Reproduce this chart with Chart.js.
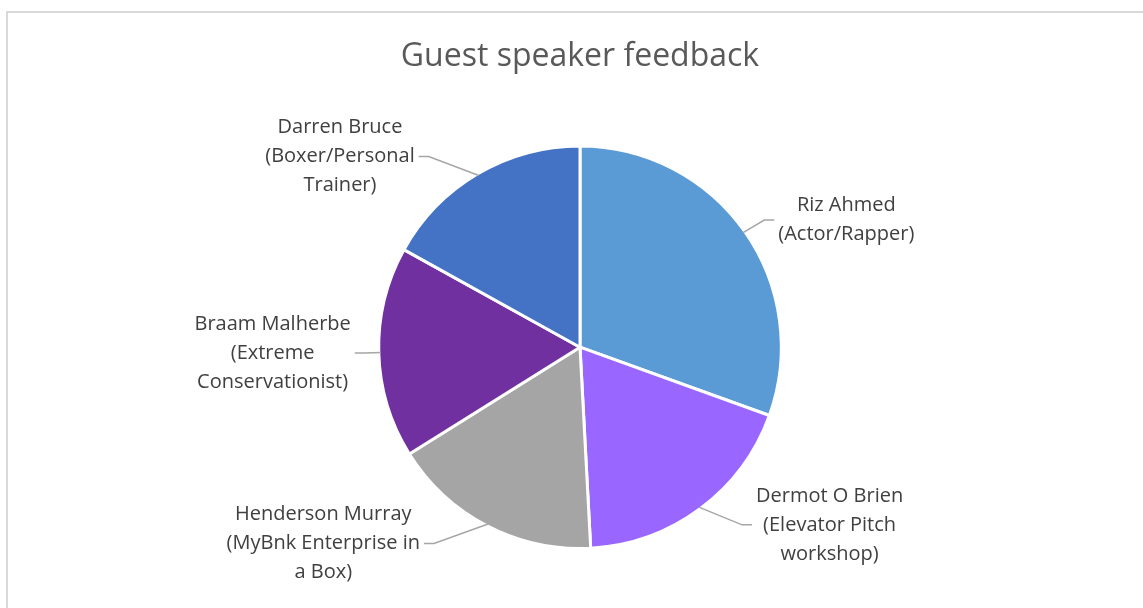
<!DOCTYPE html>
<html lang="en">
<head>
    <meta charset="UTF-8">
    <title>Guest speaker feedback</title>
    <script src="https://cdn.jsdelivr.net/npm/chart.js@4.4.2/dist/chart.umd.min.js"></script>
    <style>
        body {
          margin: 0;
          padding: 0;
          background-color: #fff;
          overflow: hidden;}
        .frame {
          position: absolute;
          left: 6px;
          top: 11px;
          width: 1300px;
          height: 800px;
          border: 2px solid #d9d9d9;}
        .wrap {
          position: absolute;
          left: 0;
          top: 0;
          width: 1143px;
          height: 608px;}
    </style>
</head>
<body>
    <div class="frame"></div>
    <div class="wrap"><canvas id="pieChart" width="1143" height="608"></canvas></div>

    <script>
        // speakers, each label split into the lines shown in the picture
        const speakerLabels = [
            ['Riz Ahmed', '(Actor/Rapper)'],
            ['Dermot O Brien', '(Elevator Pitch', 'workshop)'],
            ['Henderson Murray', '(MyBnk Enterprise in', 'a Box)'],
            ['Braam Malherbe', '(Extreme', 'Conservationist)'],
            ['Darren Bruce', '(Boxer/Personal', 'Trainer)']
        ];
        const feedbackCounts = [18, 11, 10, 10, 10];
        const sliceColors = ['#5B9BD5', '#9966FF', '#A5A5A5', '#7030A0', '#4472C4'];

        const LABEL_FONT = '20px "Open Sans"';
        const LINE_H = 29;

        // Draws the category labels outside the pie with grey leader lines
        const outsideLabels = {
            id: 'outsideLabels',
            afterDatasetsDraw(chart) {
                const ctx = chart.ctx;
                const meta = chart.getDatasetMeta(0);
                ctx.save();
                ctx.font = LABEL_FONT;
                ctx.fillStyle = '#404040';
                ctx.strokeStyle = '#a6a6a6';
                ctx.lineWidth = 1.5;
                ctx.textAlign = 'center';
                ctx.textBaseline = 'middle';
                meta.data.forEach((arc, i) => {
                    const p = arc.getProps(['x', 'y', 'startAngle', 'endAngle', 'outerRadius'], true);
                    const mid = (p.startAngle + p.endAngle) / 2;
                    const cos = Math.cos(mid), sin = Math.sin(mid);
                    const lines = speakerLabels[i];
                    const w = Math.max(...lines.map(l => ctx.measureText(l).width));
                    const h = lines.length * LINE_H;
                    const right = cos >= 0;
                    const dir = right ? 1 : -1;
                    const ax = p.x + cos * (p.outerRadius + 20);
                    const ay = p.y + sin * (p.outerRadius + 20);
                    let edge = ax + dir * 8;
                    // push the label sideways until it clears the pie
                    const clear = p.outerRadius + 20;
                    const top = ay - h / 2, bottom = ay + h / 2;
                    const nearY = top > p.y ? top : (bottom < p.y ? bottom : p.y);
                    const dy = nearY - p.y;
                    const need = Math.sqrt(Math.max(clear * clear - dy * dy, 0));
                    if (Math.abs(edge - p.x) < need) edge = p.x + dir * need;
                    // leader line
                    const sx = p.x + cos * (p.outerRadius - 2), sy = p.y + sin * (p.outerRadius - 2);
                    const ex = edge - dir * 4;
                    if (Math.hypot(ex - sx, ay - sy) > 20) {
                        ctx.beginPath();
                        ctx.moveTo(sx, sy);
                        ctx.lineTo(ex - dir * 10, ay);
                        ctx.lineTo(ex, ay);
                        ctx.stroke();
                    }
                    const cx = edge + dir * w / 2;
                    lines.forEach((line, j) => {
                        ctx.fillText(line, cx, ay - h / 2 + LINE_H * (j + 0.5));
                    });
                });
                ctx.restore();
            }
        };

        const ctx = document.getElementById('pieChart').getContext('2d');
        const pieChart = new Chart(ctx, {
            type: 'pie',
            data: {
                labels: speakerLabels,
                datasets: [{
                    data: feedbackCounts,
                    backgroundColor: sliceColors,
                    borderColor: '#ffffff',
                    borderWidth: 3}]},
            options: {
                responsive: false,
                animation: false,
                layout: {
                    padding: {top: 0, bottom: 58, left: 17, right: 0}},
                plugins: {
                    legend: {display: false},
                    tooltip: {enabled: false},
                    title: {
                        display: true,
                        text: 'Guest speaker feedback',
                        color: '#595959',
                        font: {family: '"Open Sans"', size: 32, weight: 'normal'},
                        padding: {top: 38, bottom: 68}}}},
            plugins: [outsideLabels]
        });
    </script>
</body>
</html>
